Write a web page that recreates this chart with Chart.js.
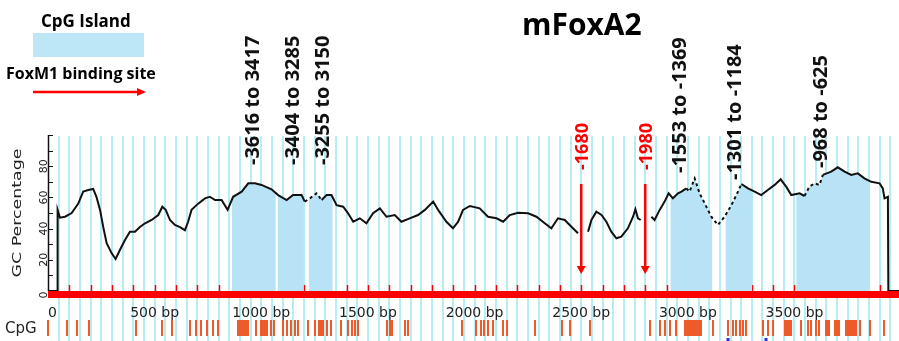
<!DOCTYPE html>
<html>
<head>
<meta charset="utf-8">
<script src="https://cdn.jsdelivr.net/npm/chart.js@4.4.1/dist/chart.umd.min.js"></script>
<style>
    html, body { margin: 0; padding: 0; background: #fff; }
    #wrap { width: 899px; height: 341px; }
</style>
</head>
<body>
<div id="wrap"><canvas id="gcChart" width="899" height="341"></canvas></div>
<script>
// GC profile of the mFoxA2 promoter window (position in bp, GC %), null = gap in the trace
const gcBp = [
    0, 45, 45, 56, 80, 111, 142, 165, 189, 212,
    228, 244, 259, 275, 298, 317, 337, 361, 384, 408,
    431, 455, 486, 517, 536, 552, 572, 595, 619, 642,
    657, 673, 704, 736, 759, 783, 814, 842, 868, 908,
    939, 970, 1001, 1048, 1079, 1119, 1149, 1189, 1204, 1228,
    1259, 1283, 1306, 1329, 1353, 1384, 1407, 1431, 1462, 1493,
    1524, 1556, 1587, 1626, 1657, 1696, 1735, 1767, 1806, 1829,
    1868, 1899, 1923, 1946, 1978, 2024, 2063, 2103, 2134, 2165,
    2204, 2251, 2290, 2329, 2360, 2391, 2423, 2454, 2485, 2508,
    2532, 2548, 2571, 2595, 2618, 2641, 2665, 2688, 2719, 2743,
    2754, 2766, 2779, 2800, 2829, 2844, 2868, 2891, 2910, 2930,
    2954, 2970, 2993, 3008, 3032, 3055, 3079, 3110, 3141, 3172,
    3204, 3235, 3251, 3282, 3313, 3344, 3375, 3407, 3435, 3461,
    3485, 3524, 3547, 3570, 3594, 3617, 3633, 3672, 3703, 3735,
    3766, 3797, 3828, 3860, 3899, 3914, 3922, 3938, 3940, 3990
];
const gcPct = [
    0, 0, 52, 47, 47.6, 50, 56, 63.7, 64.7, 65.4,
    60, 52, 41, 30.7, 24.3, 20.5, 26.3, 32.7, 38, 38,
    41, 43.4, 45.5, 48.7, 54, 52, 45.5, 42.3, 41, 39,
    44.4, 52, 56, 59.4, 60.4, 58.3, 58.3, 52, 60.4, 63.7,
    69, 69, 68, 65.2, 61.5, 58.3, 61.5, 61.5, 57.3, 59.4,
    62.6, 58.3, 61.5, 61.5, 55, 54, 49.8, 44.4, 46.6, 43.4,
    49.8, 53, 47.6, 48.7, 44.4, 46.6, 48.7, 52, 57.3, 52,
    44.4, 40.2, 44.4, 52, 54.5, 53, 47.6, 46.6, 44.4, 48.7,
    50.2, 49.8, 47.6, 43.4, 40.2, 46.6, 45.5, 41.2, 37, null,
    38, 45.5, 50.8, 48.7, 44.4, 38, 33.8, 34.8, 40.2, 47.6,
    52.4, 46.6, 45.5, null, 47.6, 45.5, 52, 57.3, 62.6, 59.4,
    62.6, 63.7, 65.8, 63.7, 72.2, 62.6, 56.2, 47.6, 42.3, 47.6,
    55, 63.7, 68.6, 65.8, 63.7, 61.5, 64.7, 68, 71.6, 66.9,
    61.5, 62.6, 60.9, 66.9, 69, 68, 74.4, 76.5, 79.3, 76.5,
    74.4, 75.4, 72.2, 70, 69, 65.8, 59.4, 60.4, 0, 0
];

// CpG islands (bp) and their promoter coordinates
const islandStart = [862, 1077, 1222, 2918, 3176, 3508];
const islandEnd = [1068, 1199, 1335, 3115, 3302, 3855];
const islandLabels = ['-3616 to 3417', '-3404 to 3285', '-3255 to 3150', '-1553 to -1369', '-1301 to -1184', '-968 to -625'];
const islandLabelBp = [956, 1143, 1284, 2957, 3215, 3618];

// FoxM1 binding sites
const siteBp = [2500, 2800];
const siteLabels = ['-1680', '-1980'];

// axis ticks
const xTicks = [0, 500, 1000, 1500, 2000, 2500, 3000, 3500];
const yTicks = [0, 20, 40, 60, 80];

// individual CpG sites (bp)
const cpgSites = [
    1, 87, 134, 193, 412, 533, 580, 665, 692, 717, 744, 775, 798,
    890, 898, 906, 914, 922, 930, 937, 975, 997, 1004, 1011, 1018, 1025, 1044, 1059,
    1100, 1119, 1139, 1158, 1173, 1220, 1251, 1272, 1281, 1290, 1306, 1325,
    1373, 1407, 1423, 1439, 1454, 1590, 1603, 1615, 1673, 1688,
    1943, 2009, 2028, 2043, 2063, 2087, 2131, 2152, 2282, 2412, 2446, 2540,
    2821, 2868, 2891, 2915, 2946, 2985, 2993, 3001, 3008, 3016, 3024, 3032, 3040, 3047, 3055, 3063,
    3118, 3188, 3211, 3227, 3243, 3258, 3274, 3352, 3375, 3399,
    3454, 3462, 3469, 3476, 3483, 3532, 3563, 3579, 3599, 3617,
    3649, 3656, 3664, 3688, 3696, 3704, 3711, 3743, 3751, 3759, 3766, 3774, 3782, 3790,
    3805, 3852, 3922
];
const otherTrack = [3190, 3365];

// ---- build datasets
const gcPoints = gcBp.map((bp, i) => ({ x: bp, y: gcPct[i] }));

function gcAt(bp) {
    for (let i = 0; i < gcBp.length - 1; i++) {
        const a = gcPct[i], b = gcPct[i + 1];
        if (a === null || b === null) continue;
        if (bp >= gcBp[i] && bp <= gcBp[i + 1] && gcBp[i + 1] > gcBp[i]) {
            return a + (b - a) * (bp - gcBp[i]) / (gcBp[i + 1] - gcBp[i]);
        }
    }
    return null;
}

const islandSets = islandStart.map((s, k) => {
    const e = islandEnd[k];
    const pts = [{ x: s, y: gcAt(s) }];
    gcPoints.forEach(p => { if (p.x > s && p.x < e && p.y !== null) pts.push(p); });
    pts.push({ x: e, y: gcAt(e) });
    return {
        data: pts,
        borderWidth: 0,
        pointRadius: 0,
        backgroundColor: '#b8e2f5',
        fill: 'origin',
        tension: 0
    };
});

const dashedRanges = [[1195, 1265], [2985, 3250], [3545, 3625]];
function isDashed(bp) {
    return dashedRanges.some(r => bp >= r[0] && bp < r[1]);
}

function vText(ctx, str, x, y, font, color, align, stretch) {
    ctx.save();
    ctx.translate(x, y);
    ctx.rotate(-Math.PI / 2);
    if (stretch) ctx.scale(stretch, 1);
    ctx.font = font;
    ctx.fillStyle = color;
    ctx.textAlign = align || 'left';
    ctx.textBaseline = 'alphabetic';
    ctx.fillText(str, 0, 0);
    ctx.restore();
}

function arrowDown(ctx, x, y1, y2) {
    ctx.beginPath();
    ctx.moveTo(x, y1);
    ctx.lineTo(x, y2 - 6);
    ctx.stroke();
    ctx.beginPath();
    ctx.moveTo(x - 4.5, y2 - 8);
    ctx.lineTo(x + 4.5, y2 - 8);
    ctx.lineTo(x, y2);
    ctx.closePath();
    ctx.fill();
}

const decorations = {
    id: 'decorations',
    beforeDatasetsDraw(chart) {
        const { ctx, chartArea: a, scales: { x, y } } = chart;
        ctx.save();
        // background stripes every 50 bp
        ctx.strokeStyle = '#b6eef3';
        ctx.lineWidth = 2;
        for (let bp = 50; bp <= x.max; bp += 50) {
            const px = Math.round(x.getPixelForValue(bp));
            ctx.beginPath();
            ctx.moveTo(px, a.top + 1);
            ctx.lineTo(px, chart.height);
            ctx.stroke();
        }
        // red sequence bar with 100 bp ticks
        const y0 = y.getPixelForValue(0);
        ctx.fillStyle = '#ff0000';
        ctx.fillRect(a.left, y0, a.right - a.left, 7);
        ctx.strokeStyle = '#ff0000';
        ctx.lineWidth = 1.5;
        for (let bp = 100; bp < x.max; bp += 100) {
            const px = Math.round(x.getPixelForValue(bp)) + 0.5;
            ctx.beginPath();
            ctx.moveTo(px, y0 - 6);
            ctx.lineTo(px, y0);
            ctx.stroke();
        }
        ctx.restore();
    },
    afterDatasetsDraw(chart) {
        const { ctx, chartArea: a, scales: { x, y } } = chart;
        ctx.save();

        // y axis
        ctx.strokeStyle = '#111';
        ctx.lineWidth = 1.5;
        ctx.beginPath();
        ctx.moveTo(a.left + 0.5, a.top);
        ctx.lineTo(a.left + 0.5, y.getPixelForValue(0));
        ctx.stroke();
        ctx.lineWidth = 1;
        for (let v = 10; v <= 100; v += 10) {
            const py = Math.round(y.getPixelForValue(v)) + 0.5;
            ctx.beginPath();
            ctx.moveTo(a.left, py);
            ctx.lineTo(a.left + 5, py);
            ctx.stroke();
        }
        yTicks.forEach(v => {
            const py = y.getPixelForValue(v) + (v === 0 ? 4 : 0);
            vText(ctx, String(v), 47, py, '11px "DejaVu Sans"', '#222', 'center');
        });
        vText(ctx, 'GC Percentage', 21, 213, '12px "DejaVu Sans"', '#222', 'center', 1.45);

        // x labels
        ctx.font = '14px "DejaVu Sans"';
        ctx.fillStyle = '#222';
        ctx.textAlign = 'center';
        ctx.textBaseline = 'alphabetic';
        xTicks.forEach(bp => {
            const px = x.getPixelForValue(bp);
            if (bp === 0) ctx.fillText('0', px + 4.5, 317);
            else ctx.fillText(bp + ' bp', px, 317);
        });

        // CpG track
        ctx.textAlign = 'left';
        ctx.font = '15px "DejaVu Sans"';
        ctx.fillText('CpG', 5, 333);
        ctx.fillStyle = '#ef5a2a';
        cpgSites.forEach(bp => {
            const px = Math.round(x.getPixelForValue(bp));
            ctx.fillRect(px - 1, 320, 2, 16);
        });
        ctx.fillStyle = '#2a2ee0';
        otherTrack.forEach(bp => {
            const px = Math.round(x.getPixelForValue(bp));
            ctx.fillRect(px - 1.5, 338, 3, 3);
        });

        // island labels
        const labelBottom = [165, 165, 165, 173, 180, 168];
        islandLabels.forEach((t, i) => {
            const px = x.getPixelForValue(islandLabelBp[i]);
            vText(ctx, t, px + 7.5, labelBottom[i], 'bold 20px "Open Sans"', '#111');
        });

        // FoxM1 binding site arrows
        ctx.strokeStyle = '#ff0000';
        ctx.fillStyle = '#ff0000';
        ctx.lineWidth = 2.5;
        siteBp.forEach((bp, i) => {
            const px = x.getPixelForValue(bp);
            arrowDown(ctx, px, 184, 274);
            vText(ctx, siteLabels[i], px + 6.5, 170, 'bold 18px "Open Sans"', '#ff0000');
        });

        // title
        ctx.fillStyle = '#000';
        ctx.textAlign = 'left';
        ctx.font = 'bold 30px "Open Sans"';
        ctx.fillText('mFoxA2', 522, 35);

        // legend
        ctx.font = 'bold 17px "Open Sans"';
        ctx.fillText('CpG Island', 41, 27);
        ctx.fillStyle = '#bde6f7';
        ctx.fillRect(33, 33, 111, 24);
        ctx.fillStyle = '#000';
        ctx.font = 'bold 16px "Open Sans"';
        ctx.fillText('FoxM1 binding site', 6, 79);
        ctx.strokeStyle = '#ff0000';
        ctx.fillStyle = '#ff0000';
        ctx.lineWidth = 2.5;
        ctx.beginPath();
        ctx.moveTo(33, 92);
        ctx.lineTo(138, 92);
        ctx.stroke();
        ctx.beginPath();
        ctx.moveTo(137, 88);
        ctx.lineTo(146, 92);
        ctx.lineTo(137, 96);
        ctx.closePath();
        ctx.fill();

        ctx.restore();
    }
};

const ctx = document.getElementById('gcChart').getContext('2d');
const gcChart = new Chart(ctx, {
    type: 'line',
    data: {
        datasets: [{
            data: gcPoints,
            borderColor: '#111',
            borderWidth: 2,
            pointRadius: 0,
            tension: 0,
            fill: false,
            spanGaps: false,
            segment: {
                borderDash: c => isDashed(c.p0.parsed.x) ? [3, 3] : undefined
            }
        }].concat(islandSets)
    },
    options: {
        responsive: false,
        animation: false,
        layout: {
            padding: { left: 48, right: 0, top: 135, bottom: 50 }
        },
        plugins: {
            legend: { display: false },
            tooltip: { enabled: false }
        },
        scales: {
            x: { type: 'linear', min: 0, max: 3990, display: false },
            y: { min: 0, max: 100, display: false }
        }
    },
    plugins: [decorations]
});
</script>
</body>
</html>
